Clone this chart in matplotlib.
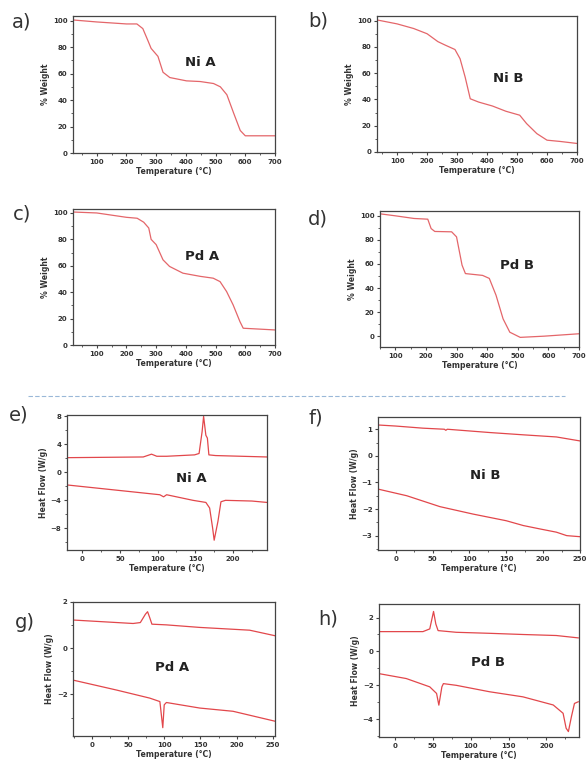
import matplotlib
matplotlib.use("Agg")
import matplotlib.pyplot as plt
from matplotlib.ticker import MultipleLocator
from matplotlib.lines import Line2D

W, H = 587, 774

# TGA data (temperature in C, weight in %)
ni_a_t = [20, 100, 200, 235, 255, 272, 283, 306, 323, 346, 402, 448, 493, 516, 538, 561, 583, 600, 700]
ni_a_w = [100.5, 99, 97.5, 97.5, 94, 85, 79, 73, 61, 57, 54.5, 54, 52.5, 50, 44, 30, 17, 13, 13]

ni_b_t = [33, 100, 155, 200, 236, 259, 293, 310, 327, 344, 372, 418, 463, 509, 532, 566, 600, 645, 700]
ni_b_w = [100.5, 97.5, 94, 90, 84, 81.5, 78, 71, 57, 40.5, 38, 35, 31, 28, 21.6, 14, 9, 8, 6.5]

pd_a_t = [22, 100, 200, 236, 258, 275, 283, 300, 323, 345, 390, 448, 492, 515, 537, 559, 582, 593, 700]
pd_a_w = [100.7, 100, 96.7, 96, 93, 88.6, 80, 76, 64.5, 59.5, 54.4, 52, 50.6, 48, 40.5, 30.4, 17.7, 12.7, 11.4]

pd_b_t = [40, 100, 161, 206, 217, 229, 284, 300, 318, 329, 385, 407, 429, 452, 474, 508, 586, 700]
pd_b_w = [102, 100, 97.8, 97.2, 89.4, 87, 86.7, 82.5, 59, 52, 50.5, 48, 34, 14.4, 3.3, -1, 0, 2]

# DSC data (temperature in C, heat flow in W/g): upper and lower traces
e_up_t = [-20, 81, 92, 99, 112, 149, 155, 159, 161, 164, 166, 168, 177, 245]
e_up_h = [2.1, 2.2, 2.6, 2.3, 2.3, 2.5, 2.7, 5.8, 8.0, 5.3, 4.9, 2.5, 2.4, 2.2]
e_lo_t = [-20, 68, 103, 108, 112, 147, 164, 169, 173, 175, 180, 184, 190, 225, 245]
e_lo_h = [-1.8, -2.8, -3.2, -3.5, -3.2, -4.0, -4.3, -5.1, -8.0, -9.7, -7.0, -4.2, -4.0, -4.1, -4.3]

f_up_t = [-24, 0, 37, 66, 68, 70, 128, 173, 218, 250]
f_up_h = [1.16, 1.12, 1.04, 1.0, 0.96, 1.0, 0.875, 0.79, 0.71, 0.56]
f_lo_t = [-24, 15, 60, 105, 150, 173, 196, 218, 232, 250]
f_lo_h = [-1.25, -1.5, -1.91, -2.19, -2.44, -2.62, -2.75, -2.87, -3.0, -3.04]

g_up_t = [-26, 57, 67, 74, 77, 80, 83, 103, 149, 218, 253]
g_up_h = [1.22, 1.07, 1.11, 1.47, 1.58, 1.32, 1.04, 1.01, 0.9, 0.78, 0.54]
g_lo_t = [-26, 34, 80, 94, 98, 100, 103, 149, 195, 253]
g_lo_h = [-1.38, -1.81, -2.16, -2.31, -3.44, -2.45, -2.35, -2.59, -2.73, -3.16]

h_up_t = [-21, 37, 46, 51, 54, 57, 81, 125, 169, 213, 242]
h_up_h = [1.17, 1.17, 1.33, 2.36, 1.62, 1.23, 1.13, 1.07, 1.0, 0.94, 0.8]
h_lo_t = [-21, 15, 46, 55, 58, 62, 64, 81, 125, 169, 209, 222, 226, 229, 233, 237, 242]
h_lo_h = [-1.31, -1.6, -2.09, -2.48, -3.17, -2.09, -1.9, -2.0, -2.38, -2.68, -3.16, -3.65, -4.53, -4.73, -3.85, -3.07, -2.97]

red = "#e2474b"
frame = "#444444"

plt.rcParams["font.weight"] = "bold"
fig = plt.figure(figsize=(W / 100, H / 100), dpi=100)


def make_ax(l, t, r, b):
    ax = fig.add_axes([l / W, 1 - b / H, (r - l) / W, (b - t) / H])
    for s in ax.spines.values():
        s.set_color(frame)
        s.set_linewidth(0.9)
    ax.tick_params(which="both", direction="out", colors=frame, labelsize=5,
                   labelcolor="#333333", pad=1.5)
    ax.tick_params(which="major", length=2.5, width=0.8)
    ax.tick_params(which="minor", length=1.5, width=0.6)
    return ax


def style_labels(ax, ylabel):
    ax.set_xlabel("Temperature (°C)", fontsize=5.6, fontweight="bold", labelpad=2, color="#333333")
    ax.set_ylabel(ylabel, fontsize=5.6, fontweight="bold", labelpad=2, color="#333333")


# TGA panels
tga = [
    ((73, 16, 275, 153), ni_a_t, ni_a_w, (20, 700), (0, 103.5), "Ni A", (0.63, 0.66)),
    ((377, 16, 577, 152), ni_b_t, ni_b_w, (33, 700), (0, 103.5), "Ni B", (0.655, 0.54)),
    ((73, 209, 275, 345), pd_a_t, pd_a_w, (20, 700), (0, 103), "Pd A", (0.64, 0.65)),
    ((380, 211, 579, 347), pd_b_t, pd_b_w, (50, 700), (-9, 104), "Pd B", (0.69, 0.6)),
]
for box, tx, wy, xl, yl, name, pos in tga:
    ax = make_ax(*box)
    ax.plot(tx, wy, color="#e4666a", lw=0.9)
    ax.set_xlim(*xl)
    ax.set_ylim(*yl)
    ax.xaxis.set_major_locator(MultipleLocator(100))
    ax.xaxis.set_minor_locator(MultipleLocator(50))
    ax.yaxis.set_major_locator(MultipleLocator(20))
    ax.yaxis.set_minor_locator(MultipleLocator(10))
    style_labels(ax, "% Weight")
    ax.text(pos[0], pos[1], name, transform=ax.transAxes, ha="center", va="center",
            fontsize=9.5, fontweight="bold", color="#222222")

# DSC panels
dsc = [
    ((67, 415, 267, 550), (e_up_t, e_up_h), (e_lo_t, e_lo_h), (-20, 245), (-11.1, 8.2), 4, 2, "Ni A", (0.62, 0.53)),
    ((378, 417, 580, 550), (f_up_t, f_up_h), (f_lo_t, f_lo_h), (-24, 250), (-3.54, 1.46), 1, 0.5, "Ni B", (0.53, 0.56)),
    ((73, 602, 275, 736), (g_up_t, g_up_h), (g_lo_t, g_lo_h), (-26, 253), (-3.8, 2.0), 2, 1, "Pd A", (0.49, 0.51)),
    ((379, 604, 579, 737), (h_up_t, h_up_h), (h_lo_t, h_lo_h), (-21, 243), (-5.05, 2.8), 2, 1, "Pd B", (0.545, 0.56)),
]
for box, up, lo, xl, yl, maj, mnr, name, pos in dsc:
    ax = make_ax(*box)
    ax.plot(up[0], up[1], color=red, lw=0.9)
    ax.plot(lo[0], lo[1], color=red, lw=0.9)
    ax.set_xlim(*xl)
    ax.set_ylim(*yl)
    ax.xaxis.set_major_locator(MultipleLocator(50))
    ax.xaxis.set_minor_locator(MultipleLocator(25))
    ax.yaxis.set_major_locator(MultipleLocator(maj))
    ax.yaxis.set_minor_locator(MultipleLocator(mnr))
    style_labels(ax, "Heat Flow (W/g)")
    ax.text(pos[0], pos[1], name, transform=ax.transAxes, ha="center", va="center",
            fontsize=9.5, fontweight="bold", color="#222222")

# panel letters
letters = ["a)", "b)", "c)", "d)", "e)", "f)", "g)", "h)"]
letter_pos = [(22, 22), (318, 21), (22, 214), (318, 219), (19, 415), (316, 418), (25, 622), (328, 619)]
for s, (x, y) in zip(letters, letter_pos):
    fig.text(x / W, 1 - y / H, s, fontsize=14, fontweight="normal", color="#333333",
             ha="center", va="center")

# dashed separator between TGA and DSC
fig.add_artist(Line2D([28 / W, 565 / W], [1 - 396 / H, 1 - 396 / H], color="#9ab8d8",
                      lw=0.8, ls=(0, (4, 2))))

fig.savefig("out.png", dpi=100)
